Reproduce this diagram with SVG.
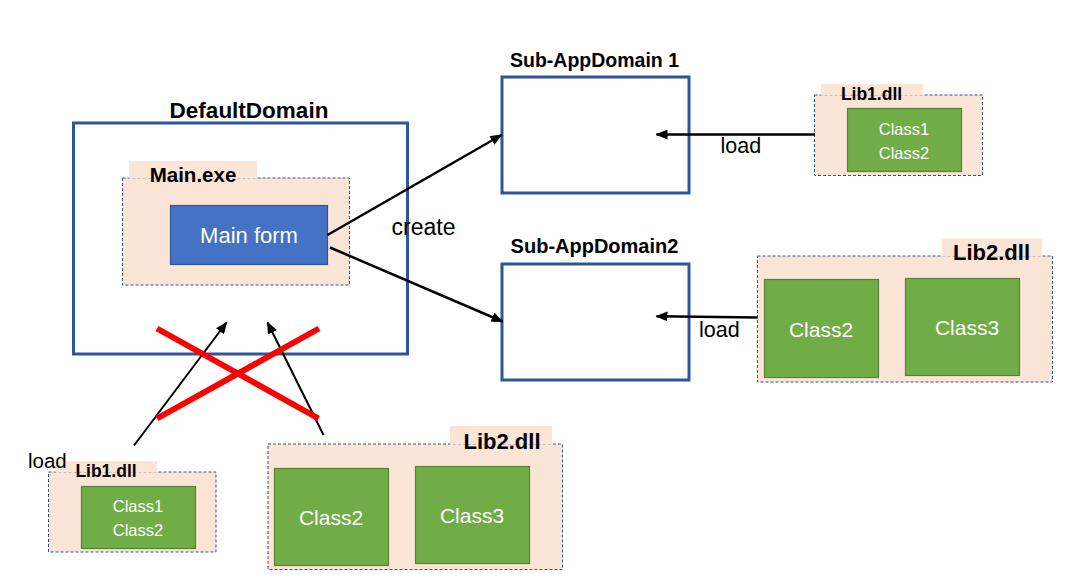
<svg xmlns="http://www.w3.org/2000/svg" width="1065" height="580" viewBox="0 0 1065 580">
<style>
.bg{fill:#ffffff}
.domain{fill:none;stroke:#2F5597;stroke-width:3}
.folder{fill:#FBE5D6;stroke:#2F5597;stroke-width:1;stroke-dasharray:3 2}
.tab{fill:#FBE5D6;stroke:none}
.cls{fill:#70AD47;stroke:#548235;stroke-width:1.2}
.form{fill:#4472C4;stroke:#2F5597;stroke-width:1.2}
.title{font-family:"Liberation Sans",Arial,sans-serif;font-weight:bold;fill:#000;text-anchor:middle}
.wt{font-family:"Liberation Sans",Arial,sans-serif;fill:#ffffff;text-anchor:middle}
.lbl{font-family:"Liberation Sans",Arial,sans-serif;fill:#000}
.conn{fill:none;stroke:#000;stroke-width:2.5}
.thin{fill:none;stroke:#000;stroke-width:2}
.cross{fill:none;stroke:#FF0000;stroke-width:6}
</style>
<defs>
<marker id="ah" markerUnits="userSpaceOnUse" markerWidth="12" markerHeight="10" refX="11" refY="5" orient="auto">
<path d="M0,0 L12,5 L0,10 Z" fill="#000"/>
</marker>
</defs>
<rect class="bg" x="0" y="0" width="1065" height="580"/>

<g id="default-domain">
<rect class="domain" x="73.5" y="123" width="334" height="231"/>
<text class="title" x="249" y="118" font-size="22.5">DefaultDomain</text>
</g>

<g id="main-exe">
<rect class="folder" x="122.5" y="178" width="227" height="107"/>
<rect class="tab" x="129" y="161" width="128" height="17.5"/>
<text class="title" x="193" y="182" font-size="20.5">Main.exe</text>
</g>

<g id="main-form">
<rect class="form" x="170.5" y="205.5" width="157" height="59"/>
<text class="wt" x="249" y="243" font-size="22">Main form</text>
</g>

<g id="sub-appdomain-1">
<rect class="domain" x="502" y="77" width="187" height="116"/>
<text class="title" x="594.5" y="67" font-size="19.5">Sub-AppDomain 1</text>
</g>

<g id="sub-appdomain-2">
<rect class="domain" x="502" y="264" width="187" height="116"/>
<text class="title" x="594.5" y="253" font-size="20">Sub-AppDomain2</text>
</g>

<g id="lib1-right">
<rect class="folder" x="814.5" y="95" width="168" height="80.5"/>
<rect class="tab" x="821" y="84" width="102" height="11.5"/>
<text class="title" x="871.5" y="100" font-size="17.5">Lib1.dll</text>
<rect class="cls" x="847.5" y="108.5" width="114" height="63"/>
<text class="wt" x="904" y="135" font-size="16.5">Class1</text>
<text class="wt" x="904" y="159" font-size="16.5">Class2</text>
</g>

<g id="lib2-right">
<rect class="folder" x="757.5" y="256" width="295" height="126"/>
<rect class="tab" x="942" y="238.5" width="100" height="18"/>
<text class="title" x="991.5" y="260" font-size="22">Lib2.dll</text>
<rect class="cls" x="764.5" y="279.5" width="114" height="98"/>
<text class="wt" x="821" y="337" font-size="21">Class2</text>
<rect class="cls" x="905.5" y="278.5" width="114" height="97"/>
<text class="wt" x="967" y="335" font-size="21">Class3</text>
</g>

<g id="lib1-bottom">
<rect class="folder" x="48.5" y="472" width="167.5" height="80"/>
<rect class="tab" x="55" y="461" width="102" height="11.5"/>
<text class="title" x="106" y="477" font-size="17.5">Lib1.dll</text>
<rect class="cls" x="81.5" y="486.5" width="114" height="62"/>
<text class="wt" x="138" y="512" font-size="16.5">Class1</text>
<text class="wt" x="138" y="536" font-size="16.5">Class2</text>
</g>

<g id="lib2-bottom">
<rect class="folder" x="268" y="444" width="294.5" height="125.5"/>
<rect class="tab" x="450" y="426" width="102" height="18.5"/>
<text class="title" x="502" y="448.5" font-size="22">Lib2.dll</text>
<rect class="cls" x="274.5" y="468.5" width="114" height="97"/>
<text class="wt" x="331" y="525" font-size="21">Class2</text>
<rect class="cls" x="415.5" y="466.5" width="114" height="97"/>
<text class="wt" x="472" y="523" font-size="21">Class3</text>
</g>

<g id="connectors">
<line class="conn" x1="327.5" y1="235" x2="501.5" y2="135" marker-end="url(#ah)"/>
<line class="conn" x1="330" y1="247.5" x2="502.5" y2="321.5" marker-end="url(#ah)"/>
<line class="conn" x1="815" y1="134.5" x2="656.5" y2="134.5" marker-end="url(#ah)"/>
<line class="conn" x1="757.5" y1="317.5" x2="656.5" y2="316.3" marker-end="url(#ah)"/>
<line class="thin" x1="134" y1="445.5" x2="226.5" y2="322.5" marker-end="url(#ah)"/>
<line class="thin" x1="323.5" y1="435" x2="267.5" y2="322.5" marker-end="url(#ah)"/>
<line class="cross" x1="157" y1="328.5" x2="318.5" y2="418.5"/>
<line class="cross" x1="157" y1="418.5" x2="319" y2="328.5"/>
<text class="lbl" x="391.5" y="234.5" font-size="23">create</text>
<text class="lbl" x="720.5" y="152.5" font-size="21.5">load</text>
<text class="lbl" x="699" y="337" font-size="21.5">load</text>
<text class="lbl" x="28" y="467.5" font-size="20.5">load</text>
</g>
</svg>
